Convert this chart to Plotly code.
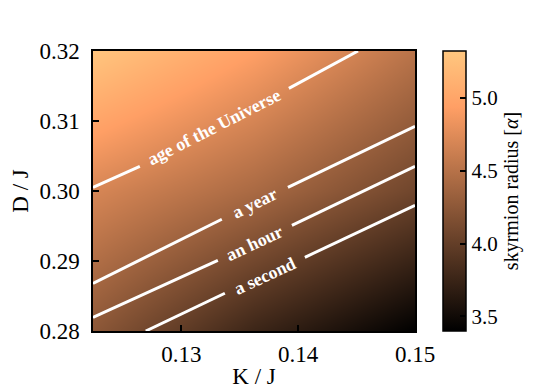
import plotly.graph_objects as go

# skyrmion radius on a coarse grid
k_grid = [0.1225, 0.13625, 0.15]
d_grid = [0.28, 0.30, 0.32]
radius = [
    [4.24, 3.76, 3.40],
    [4.69, 4.42, 4.07],
    [5.30, 4.94, 4.51],
]

# lifetime contours, two segments each (gap for the label)
universe_k = [0.12243, 0.12644, None, 0.13920, 0.14512]
universe_d = [0.30053, 0.30353, None, 0.31467, 0.32000]
year_k = [0.12243, 0.13346, None, 0.13912, 0.15]
year_d = [0.28681, 0.29596, None, 0.30053, 0.30924]
hour_k = [0.12243, 0.13312, None, 0.13946, 0.15]
hour_d = [0.28196, 0.29010, None, 0.29510, 0.30353]
second_k = [0.12695, 0.13372, None, 0.14057, 0.15]
second_d = [0.28000, 0.28539, None, 0.29053, 0.29796]

labels = ["age of the Universe", "a year", "an hour", "a second"]
label_k = [0.13282, 0.13629, 0.13629, 0.13715]
label_d = [0.30910, 0.29824, 0.29260, 0.28789]
label_angle = [-27, -26, -25, -25]

copper = [[0.0, "rgb(0,0,0)"], [0.8, "rgb(255,159,101)"], [1.0, "rgb(255,199,127)"]]
FONT = "Liberation Serif"

fig = go.Figure()
fig.add_trace(go.Heatmap(
    x=k_grid, y=d_grid, z=radius,
    zsmooth="best", colorscale=copper, zmin=3.40, zmax=5.32,
    colorbar=dict(
        x=1.087, xanchor="left", y=0, yanchor="bottom", len=1, lenmode="fraction",
        xpad=0, ypad=0,
        thickness=23, outlinewidth=1.5, outlinecolor="black",
        ticks="inside", ticklen=6, tickwidth=1.5, tickcolor="black",
        tickvals=[3.5, 4.0, 4.5, 5.0], tickformat=".1f",
        tickfont=dict(family=FONT, size=21, color="black"),
        title=dict(text="skyrmion radius [<i>α</i>]", side="right",
                   font=dict(family=FONT, size=20, color="black")),
    ),
    showscale=True,
))

for kk, dd in [(universe_k, universe_d), (year_k, year_d), (hour_k, hour_d), (second_k, second_d)]:
    fig.add_trace(go.Scatter(x=kk, y=dd, mode="lines", line=dict(color="white", width=3),
                             showlegend=False, hoverinfo="skip"))

for txt, kx, dy, ang in zip(labels, label_k, label_d, label_angle):
    fig.add_annotation(x=kx, y=dy, text="<b>" + txt + "</b>", textangle=ang, showarrow=False,
                       font=dict(family=FONT, size=18, color="white"))

fig.add_shape(type="line", xref="paper", yref="paper", x0=1.087, x1=1.158, y0=0.011, y1=0.011,
              line=dict(color="white", width=1.5))

axis_common = dict(
    showgrid=False, zeroline=False, showline=True, linecolor="black", linewidth=1.5, mirror=True,
    ticks="inside", ticklen=6, tickwidth=1.5, tickcolor="black",
    tickfont=dict(family=FONT, size=23, color="black"),
)
fig.update_xaxes(range=[0.12243, 0.15], tickvals=[0.13, 0.14, 0.15], tickformat=".2f",
                 ticklabelstandoff=2,
                 title=dict(text="K / J", font=dict(family=FONT, size=23, color="black"), standoff=2),
                 **axis_common)
fig.update_yaxes(range=[0.28, 0.32], tickvals=[0.28, 0.29, 0.30, 0.31, 0.32], tickformat=".2f",
                 ticklabelstandoff=7,
                 title=dict(text="D / J", font=dict(family=FONT, size=23, color="black"), standoff=6),
                 **axis_common)

# the page body adds an 8px offset, so the margins are shifted to compensate
fig.update_layout(
    width=541, height=389,
    margin=dict(l=85, r=134, t=43, b=66, autoexpand=False),
    paper_bgcolor="white", plot_bgcolor="white",
    showlegend=False,
)

fig.write_html("out.html")
